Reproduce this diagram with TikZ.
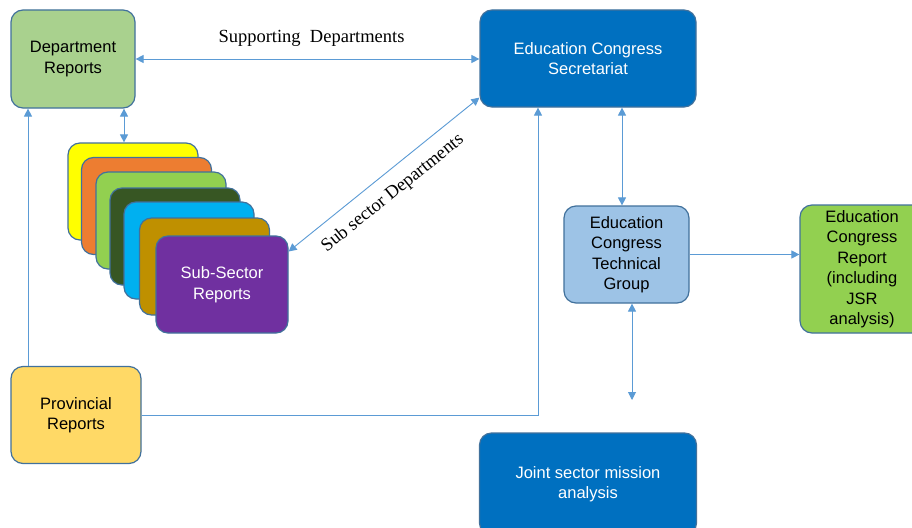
\documentclass[tikz,border=0pt]{standalone}
\usepackage{fontspec}
\setmainfont{Liberation Sans}
\newfontfamily\serifface{Liberation Serif}
\usetikzlibrary{arrows.meta,calc}
\definecolor{edgeblue}{HTML}{41719C}
\definecolor{arrowblue}{HTML}{5B9BD5}
\definecolor{deptgreen}{HTML}{A9D18E}
\definecolor{secblue}{HTML}{0070C0}
\definecolor{techblue}{HTML}{9DC3E6}
\definecolor{repgreen}{HTML}{92D050}
\definecolor{provyellow}{HTML}{FFD966}
\definecolor{cyellow}{HTML}{FFFF00}
\definecolor{corange}{HTML}{ED7D31}
\definecolor{cgreen}{HTML}{92D050}
\definecolor{cdark}{HTML}{375623}
\definecolor{ccyan}{HTML}{00B0F0}
\definecolor{cbrown}{HTML}{BF9000}
\definecolor{cpurple}{HTML}{7030A0}
\tikzset{
  box/.style={draw=edgeblue, line width=1.2pt, rounded corners=12pt, align=center,
    font=\fontsize{16.5}{20.5}\selectfont, inner sep=0pt},
  conn/.style={draw=arrowblue, line width=0.9pt},
  tip/.style={-{Triangle[length=8pt,width=8pt]}},
  tips/.style={{Triangle[length=8pt,width=8pt]}-{Triangle[length=8pt,width=8pt]}},
  lbl/.style={font=\serifface\fontsize{18.5}{22}\selectfont}
}
\begin{document}
\begin{tikzpicture}[x=1pt,y=-1pt]
\clip (0,0) rectangle (912,527);
\fill[white] (0,0) rectangle (912,527);
% boxes
\node[box, fill=deptgreen, minimum width=124pt, minimum height=98pt] (dept) at (73,59) {Department\\Reports};
\node[box, fill=secblue, text=white, minimum width=216pt, minimum height=97pt] (sec) at (588,58.5) {Education Congress\\Secretariat};
% stacked sub-sector boxes
\node[box, fill=cyellow, minimum width=130pt, minimum height=97pt] (s1) at (133,191.5) {};
\node[box, fill=corange, minimum width=130pt, minimum height=97pt] (s2) at (146.5,206) {};
\node[box, fill=cgreen, minimum width=130pt, minimum height=97pt] (s3) at (161,220.5) {};
\node[box, fill=cdark, minimum width=130pt, minimum height=97pt] (s4) at (175,236.5) {};
\node[box, fill=ccyan, minimum width=130pt, minimum height=97pt] (s5) at (189,250.5) {};
\node[box, fill=cbrown, minimum width=130pt, minimum height=97pt] (s6) at (204.5,266.5) {};
\node[box, fill=cpurple, text=white, minimum width=132pt, minimum height=97pt] (s7) at (222,284.5) {Sub-Sector\\Reports};
\node[box, fill=techblue, minimum width=125pt, minimum height=97pt] (tech) at (626.5,254.5) {Education\\Congress\\Technical\\Group};
\node[box, fill=repgreen, minimum width=124pt, minimum height=128pt] (rep) at (862,269) {Education\\Congress\\Report\\(including\\JSR\\analysis)};
\node[box, fill=provyellow, minimum width=130pt, minimum height=97pt] (prov) at (76,415) {Provincial\\Reports};
\node[box, fill=secblue, text=white, minimum width=217pt, minimum height=102pt] (joint) at (588,484) {Joint sector mission\\analysis};
% connectors
\draw[conn, tips] (dept.east) -- node[lbl, above=9pt, xshift=4pt] (supp) {Supporting\ \ Departments} (dept.east -| sec.west);
\draw[conn, tips] ([xshift=51pt]dept.south) -- ([xshift=51pt]dept.south |- s1.north);
\draw[conn, tip] ([xshift=-48pt]prov.north) -- ([xshift=-48pt]prov.north |- dept.south);
\draw[conn, tip] (prov.east) -| ([xshift=-50pt]sec.south);
\draw[conn, tips] ([yshift=10pt]sec.south west) -- node[lbl, sloped, below=8pt, pos=0.52] (subl) {Sub sector Departments} ([yshift=33pt]s7.east);
\draw[conn, tips] ([xshift=-4.5pt]tech.north) -- ([xshift=-4.5pt]tech.north |- sec.south);
\coordinate (freeend) at (632,400);
\draw[conn, tips] (tech.south -| freeend) -- (freeend);
\draw[conn, tip] (tech.east) -- (tech.east -| rep.west);
\end{tikzpicture}
\end{document}
